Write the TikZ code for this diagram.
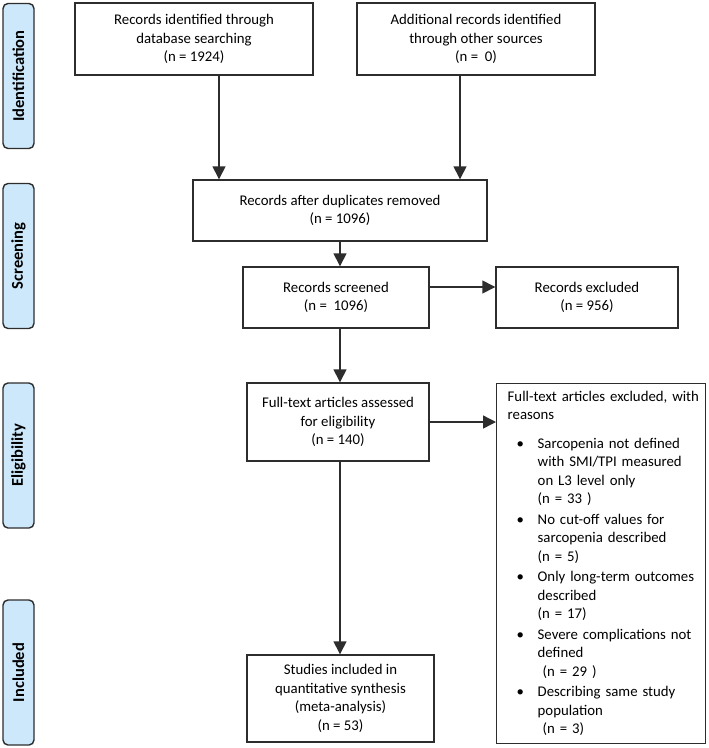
\documentclass[tikz,border=0pt]{standalone}
\usepackage{fontspec}
\setmainfont{Carlito}
\usepackage{tikz}
\usetikzlibrary{arrows.meta,positioning,calc}
\definecolor{phaseblue}{RGB}{204,232,250}
\definecolor{linegray}{RGB}{45,45,45}
\tikzset{
  box/.style={draw=linegray, line width=1.4pt, align=center, inner sep=0pt,
    font=\fontsize{14.8}{18.7}\selectfont},
  phase/.style={draw=linegray, line width=1.4pt, fill=phaseblue, rounded corners=5pt,
    rotate=90, minimum width=145pt, minimum height=31pt, inner sep=0pt,
    font=\fontsize{16.5}{18}\selectfont\bfseries},
  arr/.style={draw=linegray, line width=1.4pt, -{Triangle[width=13pt,length=13pt]}}
}
\begin{document}
\begin{tikzpicture}[x=1pt,y=-1pt]
\useasboundingbox (0,0) rectangle (709,748);
% phases
\node[phase] (ident) at (18.5,76) {Identification};
\node[phase] (screen) at (18.5,256) {Screening};
\node[phase] (elig) at (18.5,455.5) {Eligibility};
\node[phase] (incl) at (18.5,672.5) {Included};
% flow boxes
\node[box, minimum width=238pt, minimum height=72pt] (dbase) at (194,39)
  {Records identified through\\database searching\\(n = 1924)};
\node[box, minimum width=238pt, minimum height=72pt] (other) at (476,39)
  {Additional records identified\\through other sources\\(n = \ 0)};
\node[box, minimum width=294pt, minimum height=61pt] (dupl) at (340,210.5)
  {Records after duplicates removed\\(n = 1096)};
\node[box, minimum width=186pt, minimum height=61pt] (screened) at (336,297.5)
  {Records screened\\(n = \ 1096)};
\node[box, minimum width=182pt, minimum height=61pt] (excl) at (587,297.5)
  {Records excluded\\(n = 956)};
\node[box, minimum width=182pt, minimum height=78pt] (fulltext) at (338,422)
  {Full-text articles assessed\\for eligibility\\(n = 140)};
\node[box, minimum width=187pt, minimum height=87pt] (studies) at (340.5,698.5)
  {Studies included in\\quantitative synthesis\\(meta-analysis)\\(n = 53)};
\node[box, anchor=north west, align=left, text width=187pt, inner xsep=11pt,
  minimum height=360pt, font=\fontsize{14.8}{18.5}\selectfont] (reasons) at (496,383)
  {\begin{tabular}{@{}p{30pt}@{}l@{}}
   \multicolumn{2}{@{}l@{}}{Full-text articles excluded, with}\\
   \multicolumn{2}{@{}l@{}}{reasons}\\[10pt]
   \hspace*{9pt}\textbullet & Sarcopenia not defined\\
    & with SMI/TPI measured\\
    & on L3 level only\\
    & (n = 33 )\\[2pt]
   \hspace*{9pt}\textbullet & No cut-off values for\\
    & sarcopenia described\\
    & (n = 5)\\[2pt]
   \hspace*{9pt}\textbullet & Only long-term outcomes\\
    & described\\
    & (n = 17)\\[2pt]
   \hspace*{9pt}\textbullet & Severe complications not\\
    & defined\\
    & \ (n = 29 )\\[2pt]
   \hspace*{9pt}\textbullet & Describing same study\\
    & population\\
    & \ (n = 3)
   \end{tabular}};
% connectors
\coordinate (c1) at (219,0);
\coordinate (c2) at (460,0);
\coordinate (c3) at (340,0);
\coordinate (c4) at (0,287);
\draw[arr] (dbase.south -| c1) -- (dupl.north -| c1);
\draw[arr] (other.south -| c2) -- (dupl.north -| c2);
\draw[arr] (dupl.south -| c3) -- (screened.north -| c3);
\draw[arr] (screened.south -| c3) -- (fulltext.north -| c3);
\draw[arr] (fulltext.south -| c3) -- (studies.north -| c3);
\draw[arr] (screened.east |- c4) -- (excl.west |- c4);
\draw[arr] (fulltext.east) -- (fulltext.east -| reasons.west);
\end{tikzpicture}
\end{document}
